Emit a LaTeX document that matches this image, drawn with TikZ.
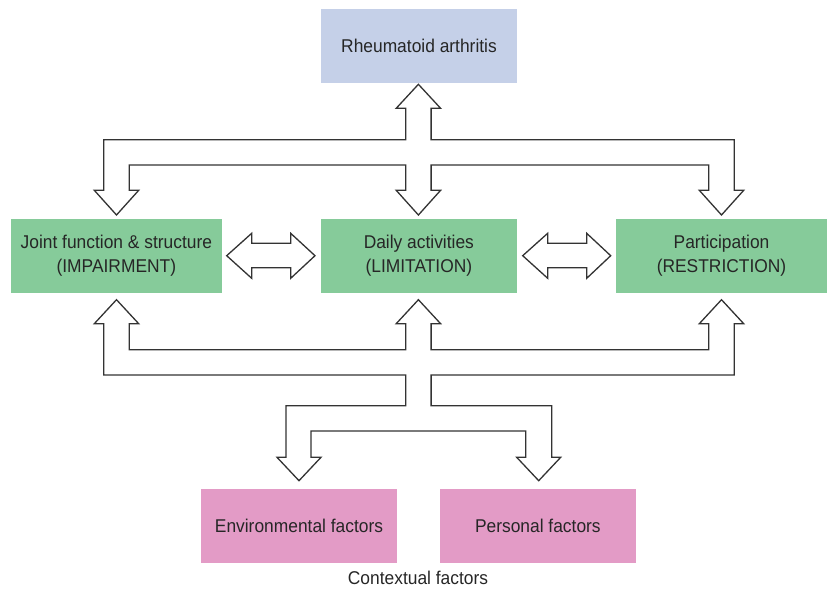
\documentclass[tikz,border=0pt]{standalone}
\usepackage{fontspec}
\setmainfont[FakeStretch=0.94]{Liberation Sans}
\begin{document}
\begin{tikzpicture}[x=1pt,y=-1pt,
  box/.style={rectangle, draw=none, inner sep=0pt, minimum height=73.7pt,
    align=center, text=black!85, font=\fontsize{18.5}{23.3}\selectfont},
  causebox/.style={box, fill=blueish},
  icfbox/.style={box, fill=greenish},
  ctxbox/.style={box, fill=pinkish},
  blockarrow/.style={draw=black!80, fill=white, line width=1.3pt, line join=miter}
]
\definecolor{blueish}{RGB}{197,208,232}
\definecolor{greenish}{RGB}{134,203,154}
\definecolor{pinkish}{RGB}{227,155,198}
\useasboundingbox (0,0) rectangle (827,589);

% boxes
\node[causebox, minimum width=196pt]   (ra)   at (419,45.85)     {Rheumatoid arthritis};
\node[icfbox,   minimum width=210.7pt] (imp)  at (116.35,255.85) {Joint function \& structure\\(IMPAIRMENT)};
\node[icfbox,   minimum width=195.7pt] (lim)  at (418.85,255.85) {Daily activities\\(LIMITATION)};
\node[icfbox,   minimum width=211pt]   (res)  at (721.5,255.85)  {Participation\\(RESTRICTION)};
\node[ctxbox,   minimum width=196pt]   (env)  at (299,525.85)    {Environmental factors};
\node[ctxbox,   minimum width=195.7pt] (pers) at (537.85,525.85) {Personal factors};
\node[inner sep=0pt, text=black!85, font=\fontsize{18.5}{23.3}\selectfont] (ctx) at (418,578) {Contextual factors};

% upper branching arrow: disease -> the three components
\draw[blockarrow]
  (418.4,84.3) -- (440.6,108.3) -- (431.1,108.3) -- (431.1,139.7) -- (734.2,139.7)
  -- (734.2,190.3) -- (743.7,190.3) -- (721.5,215) -- (699.3,190.3) -- (708.8,190.3)
  -- (708.8,165) -- (431.1,165) -- (431.1,190.3) -- (440.6,190.3) -- (418.4,215)
  -- (396.2,190.3) -- (405.7,190.3) -- (405.7,165) -- (129.2,165) -- (129.2,190.3)
  -- (138.7,190.3) -- (116.5,215) -- (94.3,190.3) -- (103.8,190.3) -- (103.8,139.7)
  -- (405.7,139.7) -- (405.7,108.3) -- (396.2,108.3) -- cycle;

% lower branching arrow: components <-> contextual factors
\draw[blockarrow]
  (116.5,299.7) -- (138.7,323.7) -- (129.2,323.7) -- (129.2,349.7) -- (405.7,349.7)
  -- (405.7,323.7) -- (396.2,323.7) -- (418.4,299.7) -- (440.6,323.7) -- (431.1,323.7)
  -- (431.1,349.7) -- (708.8,349.7) -- (708.8,323.7) -- (699.3,323.7) -- (721.5,299.7)
  -- (743.7,323.7) -- (734.2,323.7) -- (734.2,375) -- (431.1,375) -- (431.1,405.7)
  -- (551.7,405.7) -- (551.7,457.3) -- (560.7,457.3) -- (538.7,480.7) -- (516.7,457.3)
  -- (525.7,457.3) -- (525.7,431) -- (311,431) -- (311,457.3) -- (321,457.3)
  -- (299,480.7) -- (277,457.3) -- (286,457.3) -- (286,405.7) -- (405.7,405.7)
  -- (405.7,375) -- (103.8,375) -- (103.8,323.7) -- (94.3,323.7) -- cycle;

% two-way arrows between neighbouring components
\draw[blockarrow]
  (226.7,255.7) -- (251.7,233.3) -- (251.7,243.3) -- (290.7,243.3) -- (290.7,233.3)
  -- (315,255.7) -- (290.7,278.3) -- (290.7,267.7) -- (251.7,267.7) -- (251.7,278.3) -- cycle;
\draw[blockarrow]
  (522.7,255.7) -- (547.7,233.3) -- (547.7,243.3) -- (586.7,243.3) -- (586.7,233.3)
  -- (610.7,255.7) -- (586.7,278.3) -- (586.7,267.7) -- (547.7,267.7) -- (547.7,278.3) -- cycle;
\end{tikzpicture}
\end{document}
